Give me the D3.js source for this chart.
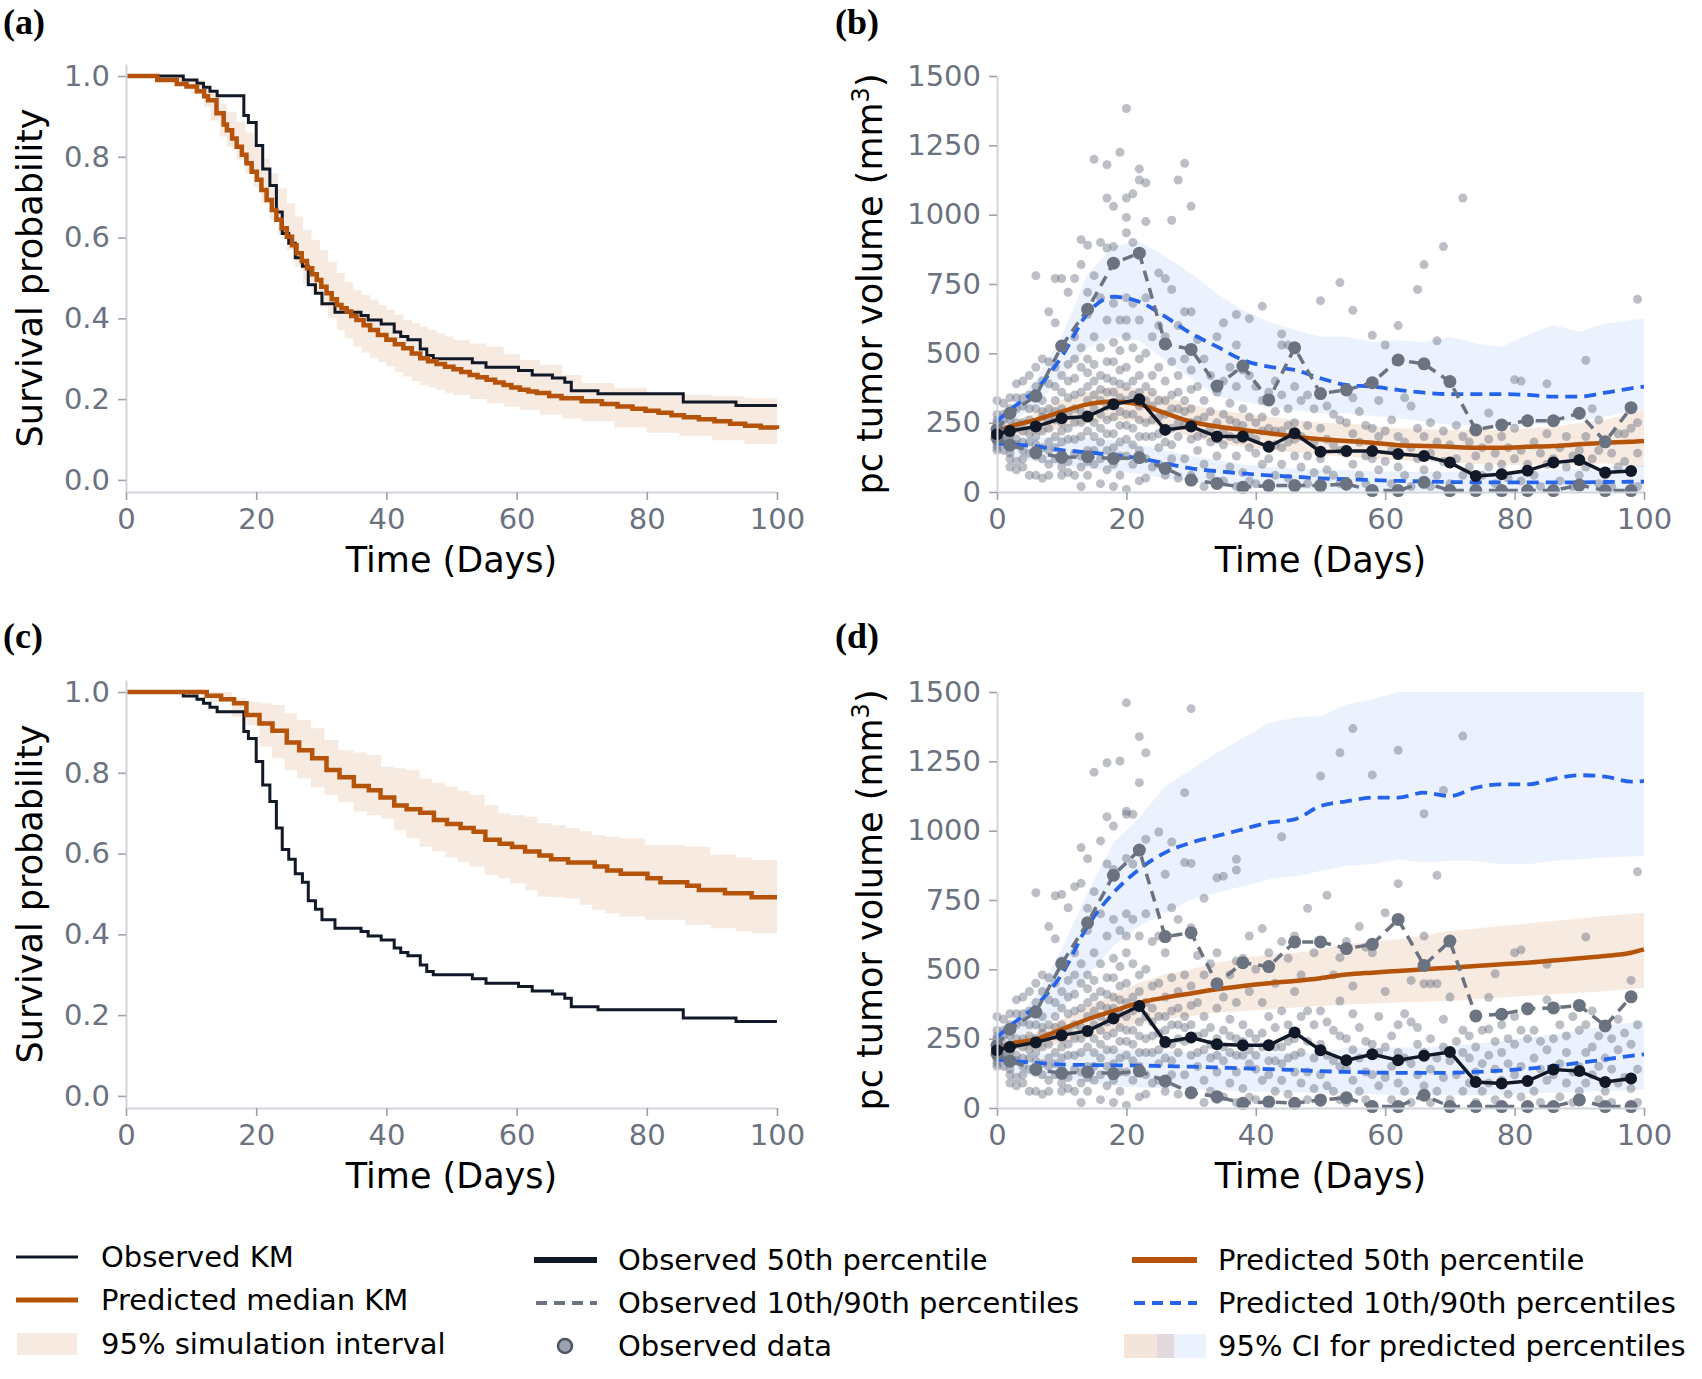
<!DOCTYPE html>
<html>
<head>
<meta charset="utf-8">
<script src="https://cdn.jsdelivr.net/npm/d3@7"></script>
<style>
  body { margin: 0; background: #fff; }
  svg { display: block; font-family: "DejaVu Sans", sans-serif; }
</style>
</head>
<body>
<div id="chart"></div>
<script>
// ---- ticks ----
const timeTicks = [0, 20, 40, 60, 80, 100];
const survTicks = [0, 0.2, 0.4, 0.6, 0.8, 1.0];
const volTicks = [0, 250, 500, 750, 1000, 1250, 1500];

// ---- observed Kaplan-Meier (same in a and c) ----
const kmTime = [0, 8.8, 10.9, 11.9, 12.9, 14.0, 18.1, 18.8, 20.0, 21.0, 22.1, 23.1, 24.0, 25.0, 26.0, 27.1, 28.0, 29.1, 30.1, 32.1, 36.1, 37.2, 39.2, 41.2, 42.2, 43.3, 45.2, 46.2, 47.2, 53.2, 55.3, 60.3, 62.4, 65.5, 67.4, 68.4, 72.5, 85.6, 93.7, 100];
const kmSurv = [1.0, 0.99, 0.982, 0.972, 0.962, 0.951, 0.902, 0.885, 0.828, 0.770, 0.729, 0.663, 0.61, 0.586, 0.55, 0.529, 0.483, 0.462, 0.436, 0.415, 0.407, 0.396, 0.386, 0.366, 0.355, 0.347, 0.324, 0.308, 0.3, 0.29, 0.279, 0.271, 0.26, 0.252, 0.242, 0.221, 0.213, 0.193, 0.184, 0.184];

// ---- panel (a) predicted median KM + 95% interval ----
const predATime = [0, 4.8, 7.8, 9.3, 10.9, 12, 12.6, 13.9, 15, 15.5, 16.3, 17, 17.8, 18.5, 19.3, 20.1, 20.8, 21.6, 22.4, 23.1, 23.9, 24.7, 25.5, 26.2, 27, 27.8, 28.6, 29.3, 30, 30.8, 31.6, 32.4, 33.1, 33.9, 34.6, 35.4, 36.5, 37.5, 38.7, 40, 41.3, 42.6, 43.9, 45.2, 46.4, 47.7, 49, 50.3, 51.5, 52.8, 54, 55.4, 56.7, 58, 59.2, 60.5, 61.8, 63.1, 65, 66.9, 70, 73.1, 75.5, 77.8, 79.8, 81.8, 83.8, 85.7, 88, 90.4, 92.8, 95.1, 97.5, 100];
const predASurv = [1.0, 0.99, 0.98, 0.974, 0.962, 0.95, 0.94, 0.908, 0.88, 0.866, 0.845, 0.825, 0.805, 0.784, 0.763, 0.743, 0.718, 0.693, 0.668, 0.644, 0.623, 0.602, 0.581, 0.561, 0.542, 0.524, 0.509, 0.495, 0.478, 0.462, 0.447, 0.433, 0.425, 0.417, 0.406, 0.396, 0.383, 0.371, 0.359, 0.347, 0.336, 0.326, 0.313, 0.301, 0.294, 0.287, 0.28, 0.274, 0.267, 0.26, 0.254, 0.248, 0.241, 0.235, 0.229, 0.223, 0.219, 0.215, 0.208, 0.202, 0.195, 0.188, 0.182, 0.176, 0.171, 0.166, 0.16, 0.155, 0.15, 0.145, 0.139, 0.134, 0.13, 0.126];
const bandATime = [0, 5, 7, 9, 10, 12, 13, 14.4, 15.5, 17, 18.3, 19.6, 20.8, 22.1, 23.4, 24.7, 26, 27.2, 28.5, 29.8, 31, 32.4, 33.6, 34.9, 36.2, 37.5, 38.8, 40, 41.3, 42.6, 43.9, 45.2, 46.5, 47.7, 49, 50.3, 52.8, 55.4, 58, 60.5, 63.6, 67, 70, 75, 80, 85, 90, 95, 100];
const bandAUpper = [1.0, 1.0, 1.0, 0.995, 0.99, 0.975, 0.96, 0.932, 0.91, 0.887, 0.86, 0.833, 0.795, 0.759, 0.722, 0.685, 0.652, 0.619, 0.594, 0.569, 0.54, 0.512, 0.49, 0.47, 0.458, 0.446, 0.433, 0.421, 0.408, 0.396, 0.388, 0.38, 0.371, 0.363, 0.355, 0.347, 0.338, 0.33, 0.312, 0.297, 0.285, 0.26, 0.24, 0.228, 0.216, 0.211, 0.207, 0.202, 0.197];
const bandALower = [1.0, 0.995, 0.986, 0.967, 0.955, 0.924, 0.89, 0.85, 0.825, 0.792, 0.76, 0.726, 0.685, 0.644, 0.606, 0.569, 0.528, 0.487, 0.458, 0.429, 0.4, 0.371, 0.35, 0.33, 0.315, 0.301, 0.291, 0.281, 0.268, 0.256, 0.245, 0.235, 0.229, 0.223, 0.216, 0.21, 0.2, 0.19, 0.181, 0.173, 0.161, 0.152, 0.145, 0.13, 0.117, 0.108, 0.098, 0.089, 0.079];

// ---- panel (c) predicted median KM + 95% interval ----
const predCTime = [0, 12.4, 14.6, 16.6, 18.5, 20.5, 22.5, 24.7, 26.6, 28.6, 30.8, 32.8, 35.0, 37.3, 39.1, 41.2, 43.1, 45.2, 47.3, 49.3, 51.4, 53.4, 55.2, 57.4, 59.3, 61.3, 63.5, 65.3, 67.9, 72.0, 73.9, 76.0, 80.1, 82.1, 86.2, 88.0, 92.0, 96.1, 100];
const predCSurv = [1.0, 0.991, 0.982, 0.972, 0.943, 0.922, 0.904, 0.875, 0.856, 0.836, 0.807, 0.789, 0.767, 0.757, 0.739, 0.719, 0.710, 0.701, 0.683, 0.673, 0.663, 0.654, 0.634, 0.624, 0.616, 0.605, 0.595, 0.586, 0.578, 0.568, 0.558, 0.55, 0.539, 0.529, 0.52, 0.51, 0.502, 0.492, 0.492];
const bandCTime = [0, 13, 16.3, 18.5, 20.5, 22.4, 24.4, 26.3, 28.4, 30.5, 32.6, 35, 37, 39.2, 41.2, 43.1, 45.1, 47, 49, 50.9, 52.8, 55.1, 57.2, 59, 61.3, 63.2, 65.5, 67.6, 69.7, 71.6, 73.6, 75.8, 79.7, 85.9, 89.8, 93.7, 96.2, 100];
const bandCUpper = [1.0, 1.0, 0.984, 0.976, 0.972, 0.968, 0.947, 0.931, 0.91, 0.881, 0.856, 0.85, 0.844, 0.815, 0.811, 0.807, 0.786, 0.776, 0.766, 0.755, 0.745, 0.72, 0.7, 0.695, 0.691, 0.675, 0.67, 0.663, 0.655, 0.646, 0.642, 0.638, 0.621, 0.617, 0.597, 0.59, 0.584, 0.584];
const bandCLower = [1.0, 0.975, 0.939, 0.918, 0.865, 0.836, 0.807, 0.786, 0.764, 0.745, 0.727, 0.704, 0.695, 0.687, 0.658, 0.638, 0.617, 0.605, 0.59, 0.58, 0.568, 0.547, 0.539, 0.526, 0.51, 0.493, 0.491, 0.489, 0.473, 0.46, 0.452, 0.444, 0.436, 0.423, 0.415, 0.407, 0.402, 0.399];

// ---- tumour volume: observed percentiles ----
const obsTimes = [0, 2, 6, 10, 14, 18, 22, 26, 30, 34, 38, 42, 46, 50, 54, 58, 62, 66, 70, 74, 78, 82, 86, 90, 94, 98];
const obsB50 = [208, 220, 236, 266, 272, 316, 334, 224, 236, 200, 200, 163, 212, 145, 148, 148, 137, 130, 106, 58, 64, 77, 106, 115, 70, 76];
const obsB90 = [225, 284, 346, 526, 659, 825, 861, 534, 514, 382, 454, 332, 520, 355, 368, 394, 476, 462, 398, 224, 242, 257, 257, 284, 181, 304];
const obsB10 = [195, 169, 142, 125, 127, 121, 124, 85, 43, 31, 17, 23, 23, 23, 29, 5, 5, 35, 5, 5, 5, 5, 5, 25, 5, 5];
const obsD50 = [208, 220, 236, 262, 278, 323, 368, 238, 254, 230, 226, 226, 272, 208, 172, 194, 172, 188, 202, 94, 88, 97, 139, 133, 94, 106];
const obsD90 = [225, 284, 346, 520, 668, 839, 930, 618, 632, 448, 524, 510, 599, 599, 575, 590, 680, 514, 602, 332, 338, 358, 361, 370, 296, 401];
const obsD10 = [195, 169, 139, 125, 130, 124, 133, 97, 55, 41, 17, 22, 17, 29, 37, 5, 5, 46, 5, 5, 5, 5, 5, 29, 5, 5];

// ---- tumour volume: predicted percentiles and their 95% CI ----
const predTimes = [0, 2, 6, 10, 14, 18, 22, 26, 30, 34, 38, 42, 46, 50, 54, 58, 62, 66, 70, 74, 78, 82, 86, 90, 94, 98, 100];
const predB50 = [218, 236, 260, 290, 316, 326, 316, 284, 254, 236, 224, 212, 200, 190, 184, 178, 169, 166, 163, 160, 160, 163, 166, 172, 178, 181, 184];
const predB90 = [254, 296, 368, 488, 644, 704, 686, 632, 572, 524, 476, 452, 440, 410, 386, 380, 368, 358, 353, 353, 353, 350, 344, 344, 358, 374, 380];
const predB10 = [175, 172, 165, 151, 143, 133, 122, 103, 85, 75, 67, 60, 55, 49, 46, 43, 40, 38, 36, 35, 35, 35, 35, 35, 36, 37, 37];
const ciB90Hi = [272, 300, 404, 560, 788, 885, 903, 849, 788, 716, 656, 614, 584, 560, 560, 541, 547, 541, 560, 536, 524, 566, 602, 578, 608, 620, 626];
const ciB90Lo = [242, 248, 308, 416, 520, 560, 545, 476, 410, 344, 325, 308, 295, 284, 284, 275, 266, 255, 242, 238, 236, 242, 248, 260, 272, 290, 296];
const ciB50Hi = [224, 250, 284, 332, 361, 380, 373, 344, 314, 296, 284, 272, 260, 250, 248, 240, 230, 226, 224, 224, 224, 228, 236, 248, 260, 285, 296];
const ciB50Lo = [200, 203, 206, 230, 248, 260, 254, 230, 200, 175, 163, 151, 142, 133, 127, 121, 115, 110, 106, 101, 97, 97, 97, 100, 103, 95, 91];
const ciB10Hi = [163, 185, 195, 200, 195, 185, 170, 150, 130, 115, 100, 90, 85, 80, 79, 76, 73, 73, 73, 73, 73, 76, 79, 85, 91, 95, 97];
const ciB10Lo = [151, 130, 110, 95, 85, 75, 65, 50, 38, 25, 18, 13, 10, 7, 5, 4, 3, 3, 3, 3, 3, 3, 3, 3, 3, 3, 3];
const predD50 = [212, 230, 248, 284, 320, 350, 380, 398, 413, 428, 440, 450, 458, 468, 481, 488, 494, 500, 506, 512, 518, 524, 532, 540, 548, 560, 572];
const predD90 = [254, 296, 368, 482, 656, 776, 861, 921, 957, 981, 1005, 1029, 1041, 1089, 1106, 1119, 1119, 1137, 1125, 1155, 1167, 1167, 1187, 1200, 1195, 1177, 1179];
const predD10 = [175, 170, 163, 157, 155, 154, 153, 151, 149, 146, 143, 140, 137, 133, 130, 128, 127, 127, 127, 130, 135, 142, 150, 163, 175, 188, 193];
const ciD90Hi = [266, 300, 404, 572, 776, 957, 1047, 1161, 1221, 1281, 1334, 1389, 1407, 1413, 1455, 1473, 1500, 1500, 1500, 1500, 1500, 1500, 1500, 1500, 1500, 1500, 1500];
const ciD90Lo = [242, 250, 284, 350, 476, 584, 656, 704, 752, 776, 800, 824, 836, 855, 873, 879, 897, 885, 891, 891, 879, 879, 891, 897, 903, 907, 909];
const ciD50Hi = [224, 240, 272, 320, 368, 410, 452, 482, 500, 524, 541, 553, 559, 572, 590, 600, 608, 622, 638, 647, 656, 665, 674, 683, 692, 700, 704];
const ciD50Lo = [200, 205, 212, 236, 254, 278, 308, 320, 332, 344, 350, 356, 362, 368, 373, 377, 380, 383, 386, 392, 398, 404, 410, 416, 421, 430, 433];
const ciD10Hi = [163, 185, 195, 200, 205, 212, 210, 205, 200, 200, 200, 200, 200, 200, 218, 218, 218, 220, 224, 233, 242, 254, 266, 281, 296, 308, 314];
const ciD10Lo = [151, 130, 110, 103, 92, 79, 74, 70, 67, 64, 61, 58, 56, 55, 53, 50, 46, 46, 46, 47, 49, 52, 55, 58, 61, 65, 67];

// ---- observed individual data, [day, values] ----
const scatterB = [
  [0, [210, 190, 230, 250, 170, 200, 180, 220, 280, 330, 160, 240, 205, 260, 150]], [1, [260, 200, 150, 320, 230, 180, 280, 210]],
  [2, [280, 200, 140, 230, 300, 180, 120, 260, 340, 90, 210]], [3, [300, 230, 170, 110, 340, 80, 250, 190, 390]],
  [4, [220, 310, 400, 150, 90, 250, 180, 340, 120]], [5, [350, 180, 260, 60, 420, 300, 210, 140]],
  [6, [780, 340, 250, 130, 60, 300, 200, 450, 170, 380]], [7, [400, 270, 160, 50, 330, 220, 480, 120, 290]],
  [8, [650, 470, 300, 180, 100, 230, 390, 260, 150, 60]], [9, [770, 610, 380, 260, 120, 330, 200, 450, 290, 160]],
  [10, [770, 530, 420, 300, 180, 90, 250, 60, 360, 220, 140]], [11, [720, 460, 340, 230, 110, 280, 400, 190, 70]],
  [12, [770, 560, 410, 300, 190, 60, 350, 250, 140, 480]], [13, [910, 820, 450, 360, 250, 130, 20, 290, 520, 200, 90]],
  [14, [890, 720, 640, 480, 380, 270, 150, 60, 330, 430, 220, 110]], [15, [1200, 780, 560, 400, 300, 200, 100, 350, 250, 460, 150]],
  [16, [900, 700, 520, 420, 330, 230, 120, 30, 370, 280, 180]], [17, [1180, 1060, 880, 620, 470, 360, 260, 150, 310, 410, 210, 80]],
  [18, [1030, 885, 680, 540, 400, 320, 210, 100, 20, 360, 270, 160, 470]], [19, [1225, 620, 510, 390, 290, 180, 60, 340, 240, 440, 130]],
  [20, [1383, 1060, 990, 935, 700, 560, 450, 330, 240, 130, 10, 380, 280, 190, 620]], [21, [1075, 900, 680, 520, 400, 280, 170, 350, 230, 100]],
  [22, [1165, 1125, 620, 480, 360, 260, 150, 40, 420, 310, 200]], [23, [1115, 975, 700, 500, 380, 250, 120, 50, 330, 200]],
  [24, [560, 420, 310, 200, 90, 260, 360]], [25, [790, 600, 450, 330, 210, 100, 270, 160]],
  [26, [770, 560, 400, 280, 180, 60, 330, 230]], [27, [980, 730, 470, 350, 230, 120, 300, 170]],
  [28, [1125, 600, 420, 300, 200, 50, 250, 360]], [29, [1185, 650, 480, 330, 240, 120, 290]],
  [30, [1030, 650, 440, 300, 190, 60, 250, 370]], [31, [550, 380, 260, 150, 200]],
  [32, [480, 330, 210, 100, 20, 270]], [33, [420, 290, 180, 60, 230]],
  [34, [560, 360, 250, 130, 30, 190]], [35, [610, 400, 280, 170, 40, 220]],
  [36, [450, 320, 200, 90, 260]], [37, [640, 530, 380, 250, 130, 20, 190]],
  [38, [440, 300, 190, 70, 240]], [39, [625, 420, 270, 160, 40, 210]],
  [40, [380, 250, 140, 30, 190]], [41, [670, 330, 220, 100, 270]],
  [42, [360, 230, 120, 20, 170]], [43, [400, 290, 170, 60, 220]],
  [44, [570, 530, 350, 220, 100, 160]], [45, [530, 300, 180, 50, 240]],
  [46, [520, 380, 250, 130, 20, 190]], [47, [330, 200, 90]],
  [48, [350, 240, 130, 30]], [49, [300, 180, 70]],
  [50, [690, 350, 230, 120, 20]], [51, [310, 190, 80]],
  [52, [280, 170, 60]], [53, [755, 260, 150, 30]],
  [54, [250, 140, 20]], [55, [655, 340, 210, 100]],
  [56, [290, 180, 60]], [57, [240, 130, 30]],
  [58, [565, 230, 120, 10]], [59, [330, 200, 80]],
  [60, [530, 220, 110]], [61, [260, 150, 30]],
  [62, [600, 470, 200, 90]], [63, [340, 180, 60]],
  [64, [310, 160, 20]], [65, [730, 230, 120]],
  [66, [820, 460, 200, 80]], [67, [250, 140, 20]],
  [68, [545, 180, 60]], [69, [885, 220, 110]],
  [70, [400, 170, 30]], [71, [240, 120]],
  [72, [1060, 200, 60]], [73, [180, 90]],
  [74, [220, 130, 20]], [75, [160, 60]],
  [76, [285, 190, 90]], [77, [140, 30]],
  [78, [200, 100]], [79, [160, 50]],
  [80, [405, 230, 120]], [81, [400, 150, 40]],
  [82, [250, 100]], [83, [180, 60]],
  [84, [140, 20]], [85, [390, 210, 100]],
  [86, [250, 120]], [87, [160, 40]],
  [88, [200, 90]], [89, [130, 20]],
  [90, [280, 150, 60]], [91, [475, 200, 90]],
  [92, [300, 120]], [93, [260, 150, 30]],
  [94, [180, 60]], [95, [140, 20]],
  [96, [210, 90]], [97, [210, 110]],
  [98, [300, 230, 70]], [99, [695, 250, 140, 20]]
];
const scatterD = [
  [0, [210, 190, 230, 250, 170, 200, 180, 220, 280, 330, 160, 240, 205, 260, 150]], [1, [260, 200, 150, 320, 230, 180, 280, 210]],
  [2, [280, 200, 140, 230, 300, 180, 120, 260, 340, 90, 210]], [3, [300, 230, 170, 110, 340, 80, 250, 190, 390]],
  [4, [220, 310, 400, 150, 90, 250, 180, 340, 120]], [5, [350, 180, 260, 60, 420, 300, 210, 140]],
  [6, [776, 340, 250, 130, 60, 300, 200, 450, 170, 380]], [7, [420, 270, 160, 50, 330, 220, 480, 120, 290]],
  [8, [654, 470, 300, 180, 100, 230, 390, 260, 150, 60]], [9, [765, 610, 380, 260, 120, 330, 200, 450, 290, 160]],
  [10, [770, 530, 420, 300, 180, 90, 250, 60, 360, 220, 140]], [11, [722, 460, 340, 230, 110, 280, 400, 190, 70]],
  [12, [798, 560, 410, 300, 190, 60, 350, 250, 140, 480]], [13, [939, 810, 450, 360, 250, 130, 20, 290, 520, 200, 90]],
  [14, [899, 720, 640, 480, 380, 270, 150, 60, 330, 430, 220, 110]], [15, [1211, 780, 560, 400, 300, 200, 100, 350, 250, 460, 150]],
  [16, [963, 700, 520, 420, 330, 230, 120, 30, 370, 280, 180]], [17, [1245, 1050, 880, 620, 470, 360, 260, 150, 310, 410, 210, 80]],
  [18, [1017, 860, 680, 540, 400, 320, 210, 100, 20, 360, 270, 160, 470]], [19, [1251, 640, 510, 390, 290, 180, 60, 340, 240, 440, 130]],
  [20, [1461, 1070, 1059, 900, 700, 560, 450, 330, 240, 130, 10, 380, 280, 190, 620]], [21, [1059, 880, 680, 520, 400, 280, 170, 350, 230, 100]],
  [22, [1339, 1173, 620, 480, 360, 260, 150, 40, 420, 310, 200]], [23, [1281, 969, 700, 500, 380, 250, 120, 50, 330, 200]],
  [24, [600, 440, 310, 200, 90, 260, 360]], [25, [995, 620, 450, 330, 210, 100, 270, 160]],
  [26, [843, 560, 400, 280, 180, 60, 330, 230]], [27, [959, 722, 470, 350, 230, 120, 300, 170]],
  [28, [680, 420, 300, 200, 50, 250, 360]], [29, [1137, 885, 480, 330, 240, 120, 290]],
  [30, [1440, 882, 650, 440, 300, 190, 60, 250, 370]], [31, [550, 380, 260, 150, 200]],
  [32, [756, 480, 330, 210, 100, 20, 270]], [33, [520, 290, 180, 60, 230]],
  [34, [830, 560, 360, 250, 130, 30, 190]], [35, [836, 400, 280, 170, 40, 220]],
  [36, [480, 320, 200, 90, 260]], [37, [897, 858, 530, 380, 250, 130, 20, 190]],
  [38, [540, 300, 190, 70, 240]], [39, [620, 420, 270, 160, 40, 210]],
  [40, [500, 250, 140, 30, 190]], [41, [647, 380, 220, 100, 270]],
  [42, [560, 330, 230, 120, 20, 170]], [43, [450, 290, 170, 60, 220]],
  [44, [978, 600, 350, 220, 100, 160]], [45, [540, 300, 180, 50, 240]],
  [46, [620, 420, 250, 130, 20, 190]], [47, [480, 330, 200, 90]],
  [48, [720, 350, 240, 130, 30]], [49, [560, 300, 180, 70]],
  [50, [1197, 600, 350, 230, 120, 20]], [51, [767, 310, 190, 80]],
  [52, [480, 280, 170, 60]], [53, [1281, 542, 386, 260, 150, 30]],
  [54, [600, 250, 140, 20]], [55, [1368, 440, 340, 210, 100]],
  [56, [654, 290, 180, 60]], [57, [580, 240, 130, 30]],
  [58, [1201, 560, 230, 120, 10]], [59, [330, 200, 80]],
  [60, [704, 420, 220, 110]], [61, [260, 150, 30]],
  [62, [1290, 809, 680, 300, 200, 90]], [63, [340, 180, 60]],
  [64, [460, 310, 160, 20]], [65, [290, 230, 120]],
  [66, [1061, 620, 448, 200, 80]], [67, [448, 250, 140, 20]],
  [68, [839, 448, 180, 60]], [69, [1145, 320, 220, 110]],
  [70, [600, 400, 170, 30]], [71, [240, 120]],
  [72, [1341, 280, 200, 60]], [73, [260, 180, 90]],
  [74, [330, 220, 130, 20]], [75, [280, 160, 60]],
  [76, [398, 285, 190, 90]], [77, [484, 240, 140, 30]],
  [78, [300, 200, 100]], [79, [250, 160, 50]],
  [80, [560, 330, 230, 120]], [81, [570, 280, 150, 40]],
  [82, [350, 250, 100]], [83, [280, 180, 60]],
  [84, [240, 140, 20]], [85, [518, 390, 210, 100]],
  [86, [360, 250, 120]], [87, [300, 160, 40]],
  [88, [260, 200, 90]], [89, [330, 130, 20]],
  [90, [370, 280, 150, 60]], [91, [617, 300, 200, 90]],
  [92, [350, 220, 120]], [93, [260, 150, 30]],
  [94, [300, 180, 60]], [95, [250, 140, 20]],
  [96, [320, 210, 90]], [97, [270, 110]],
  [98, [460, 400, 230, 70]], [99, [852, 300, 140, 20]]
];

// ---- legend ----
const legendKM = ["Observed KM", "Predicted median KM", "95% simulation interval"];
const legendObs = ["Observed 50th percentile", "Observed 10th/90th percentiles", "Observed data"];
const legendPred = ["Predicted 50th percentile", "Predicted 10th/90th percentiles", "95% CI for predicted percentiles"];

// ---- styling ----
const NAVY = "#111827", ORANGE = "#b45309", BLUE = "#2563eb", GREY = "#6b7280";
const width = 1702, height = 1379;

const svg = d3.select("#chart").append("svg")
  .attr("width", width).attr("height", height);

function styleAxis(sel) {
  sel.select(".domain").attr("stroke", "#d1d5db").attr("stroke-width", 2);
  sel.selectAll(".tick line").attr("stroke", "#9ca3af").attr("stroke-width", 1.6);
  sel.selectAll(".tick text").attr("fill", GREY).style("font-size", "29px")
    .style("font-family", "DejaVu Sans");
}

function drawAxes(g, x, y, yTicks, yFmt, yLabel, xLabelY, yLabelX) {
  g.append("g")
    .attr("transform", `translate(0,${y.range()[0]})`)
    .call(d3.axisBottom(x).tickValues(timeTicks).tickSize(8).tickSizeOuter(0).tickPadding(8))
    .call(styleAxis);
  g.append("g")
    .attr("transform", `translate(${x.range()[0]},0)`)
    .call(d3.axisLeft(y).tickValues(yTicks).tickFormat(yFmt).tickSize(8).tickSizeOuter(0).tickPadding(8))
    .call(styleAxis);

  g.append("text")
    .attr("x", (x.range()[0] + x.range()[1]) / 2).attr("y", xLabelY)
    .attr("text-anchor", "middle").style("font-size", "35px").attr("fill", "#000")
    .text("Time (Days)");

  const yMid = (y.range()[0] + y.range()[1]) / 2;
  const t = g.append("text")
    .attr("transform", `translate(${yLabelX},${yMid}) rotate(-90)`)
    .attr("text-anchor", "middle").style("font-size", "35px").attr("fill", "#000");
  if (Array.isArray(yLabel)) {
    t.append("tspan").text(yLabel[0]);
    t.append("tspan").attr("dy", "-13").style("font-size", "24px").text(yLabel[1]);
    t.append("tspan").attr("dy", "13").text(yLabel[2]);
  } else {
    t.text(yLabel);
  }
}

function panelLabel(text, x, y) {
  svg.append("text").attr("x", x).attr("y", y)
    .style("font-family", "'Liberation Serif', serif").style("font-size", "36px")
    .style("font-weight", "bold").attr("fill", "#000").text(text);
}

// Kaplan-Meier panel
function kmPanel(off, predT, predS, bandT, bandU, bandL) {
  const g = svg.append("g");
  const x = d3.scaleLinear().domain([0, 100]).range([126, 777]);
  const y = d3.scaleLinear().domain([-0.03, 1.03]).range([492 + off, 63.9 + off]);

  const band = bandT.map((t, i) => ({ t, hi: bandU[i], lo: bandL[i] }));
  g.append("path").datum(band)
    .attr("fill", ORANGE).attr("fill-opacity", 0.12)
    .attr("d", d3.area().curve(d3.curveStepAfter)
      .x(d => x(d.t)).y0(d => y(d.lo)).y1(d => y(d.hi)));

  const obs = kmTime.map((t, i) => ({ t, s: kmSurv[i] }));
  g.append("path").datum(obs)
    .attr("fill", "none").attr("stroke", NAVY).attr("stroke-width", 3)
    .attr("d", d3.line().curve(d3.curveStepAfter).x(d => x(d.t)).y(d => y(d.s)));

  const pred = predT.map((t, i) => ({ t, s: predS[i] }));
  g.append("path").datum(pred)
    .attr("fill", "none").attr("stroke", ORANGE).attr("stroke-width", 4.5)
    .attr("d", d3.line().curve(d3.curveStepAfter).x(d => x(d.t)).y(d => y(d.s)));

  drawAxes(g, x, y, survTicks, d3.format(".1f"), "Survival probability", 572 + off, 42);
}

// tumour volume panel
function volPanel(off, scatter, o50, o90, o10, p50, p90, p10, ci) {
  const g = svg.append("g");
  const x = d3.scaleLinear().domain([0, 100]).range([997, 1644]);
  const y = d3.scaleLinear().domain([0, 1500]).range([492 + off, 76 + off]);

  const area = d3.area().x(d => x(d.t)).y0(d => y(d.lo)).y1(d => y(d.hi));
  const bands = [
    { hi: ci[0], lo: ci[1], c: BLUE, op: 0.085 },
    { hi: ci[4], lo: ci[5], c: BLUE, op: 0.085 },
    { hi: ci[2], lo: ci[3], c: ORANGE, op: 0.12 }
  ];
  bands.forEach(b => {
    g.append("path")
      .datum(predTimes.map((t, i) => ({ t, hi: b.hi[i], lo: b.lo[i] })))
      .attr("fill", b.c).attr("fill-opacity", b.op).attr("d", area);
  });

  const pts = scatter.flatMap(([t, vs]) => vs.map(v => ({ t, v })));
  g.append("g").selectAll("circle").data(pts).join("circle")
    .attr("cx", d => x(d.t)).attr("cy", d => y(d.v)).attr("r", 4.5)
    .attr("fill", GREY).attr("fill-opacity", 0.45);

  const smooth = d3.line().curve(d3.curveMonotoneX).x(d => x(d.t)).y(d => y(d.v));
  const series = (ts, vs) => ts.map((t, i) => ({ t, v: vs[i] }));

  g.append("path").datum(series(predTimes, p50))
    .attr("fill", "none").attr("stroke", ORANGE).attr("stroke-width", 4.5).attr("d", smooth);
  [p90, p10].forEach(p => {
    g.append("path").datum(series(predTimes, p))
      .attr("fill", "none").attr("stroke", BLUE).attr("stroke-width", 3.8)
      .attr("stroke-dasharray", "12,7").attr("d", smooth);
  });

  const straight = d3.line().x(d => x(d.t)).y(d => y(d.v));
  [o90, o10].forEach(o => {
    const s = series(obsTimes, o);
    g.append("path").datum(s)
      .attr("fill", "none").attr("stroke", GREY).attr("stroke-width", 3.5)
      .attr("stroke-dasharray", "11,7").attr("d", straight);
    g.append("g").selectAll("circle").data(s).join("circle")
      .attr("cx", d => x(d.t)).attr("cy", d => y(d.v)).attr("r", 6.5).attr("fill", GREY);
  });
  const s50 = series(obsTimes, o50);
  g.append("path").datum(s50)
    .attr("fill", "none").attr("stroke", NAVY).attr("stroke-width", 3.5).attr("d", straight);
  g.append("g").selectAll("circle").data(s50).join("circle")
    .attr("cx", d => x(d.t)).attr("cy", d => y(d.v)).attr("r", 6).attr("fill", NAVY);

  drawAxes(g, x, y, volTicks, d3.format("d"), ["pc tumor volume (mm", "3", ")"], 572 + off, 882);
}

kmPanel(0, predATime, predASurv, bandATime, bandAUpper, bandALower);
kmPanel(616, predCTime, predCSurv, bandCTime, bandCUpper, bandCLower);
volPanel(0, scatterB, obsB50, obsB90, obsB10, predB50, predB90, predB10,
  [ciB90Hi, ciB90Lo, ciB50Hi, ciB50Lo, ciB10Hi, ciB10Lo]);
volPanel(616, scatterD, obsD50, obsD90, obsD10, predD50, predD90, predD10,
  [ciD90Hi, ciD90Lo, ciD50Hi, ciD50Lo, ciD10Hi, ciD10Lo]);

panelLabel("(a)", 3, 34);
panelLabel("(b)", 835, 34);
panelLabel("(c)", 3, 648);
panelLabel("(d)", 835, 648);

// ---- legends ----
const leg = svg.append("g").style("font-size", "29px").attr("fill", "#000");
function legText(x, y, t) {
  leg.append("text").attr("x", x).attr("y", y).attr("dy", "0.35em").text(t);
}

// column 1
const c1y = [1257, 1300, 1344];
leg.append("line").attr("x1", 16).attr("x2", 78).attr("y1", c1y[0]).attr("y2", c1y[0])
  .attr("stroke", NAVY).attr("stroke-width", 3);
leg.append("line").attr("x1", 16).attr("x2", 78).attr("y1", c1y[1]).attr("y2", c1y[1])
  .attr("stroke", ORANGE).attr("stroke-width", 5);
leg.append("rect").attr("x", 17).attr("y", c1y[2] - 11).attr("width", 60).attr("height", 22)
  .attr("fill", ORANGE).attr("fill-opacity", 0.12);
legendKM.forEach((t, i) => legText(101, c1y[i], t));

// column 2
const c2y = [1260, 1303, 1346];
leg.append("line").attr("x1", 534).attr("x2", 597).attr("y1", c2y[0]).attr("y2", c2y[0])
  .attr("stroke", NAVY).attr("stroke-width", 6);
leg.append("line").attr("x1", 536).attr("x2", 597).attr("y1", c2y[1]).attr("y2", c2y[1])
  .attr("stroke", GREY).attr("stroke-width", 4).attr("stroke-dasharray", "11,7");
leg.append("circle").attr("cx", 565).attr("cy", c2y[2]).attr("r", 7)
  .attr("fill", "#9ca3af").attr("stroke", "#4b5563").attr("stroke-width", 2.5);
legendObs.forEach((t, i) => legText(618, c2y[i], t));

// column 3
leg.append("line").attr("x1", 1132).attr("x2", 1197).attr("y1", c2y[0]).attr("y2", c2y[0])
  .attr("stroke", ORANGE).attr("stroke-width", 6);
leg.append("line").attr("x1", 1134).attr("x2", 1197).attr("y1", c2y[1]).attr("y2", c2y[1])
  .attr("stroke", BLUE).attr("stroke-width", 4).attr("stroke-dasharray", "11,7");
leg.append("rect").attr("x", 1124).attr("y", c2y[2] - 12).attr("width", 50).attr("height", 24)
  .attr("fill", ORANGE).attr("fill-opacity", 0.15);
leg.append("rect").attr("x", 1157).attr("y", c2y[2] - 12).attr("width", 49).attr("height", 24)
  .attr("fill", BLUE).attr("fill-opacity", 0.09);
legendPred.forEach((t, i) => legText(1218, c2y[i], t));
</script>
</body>
</html>
